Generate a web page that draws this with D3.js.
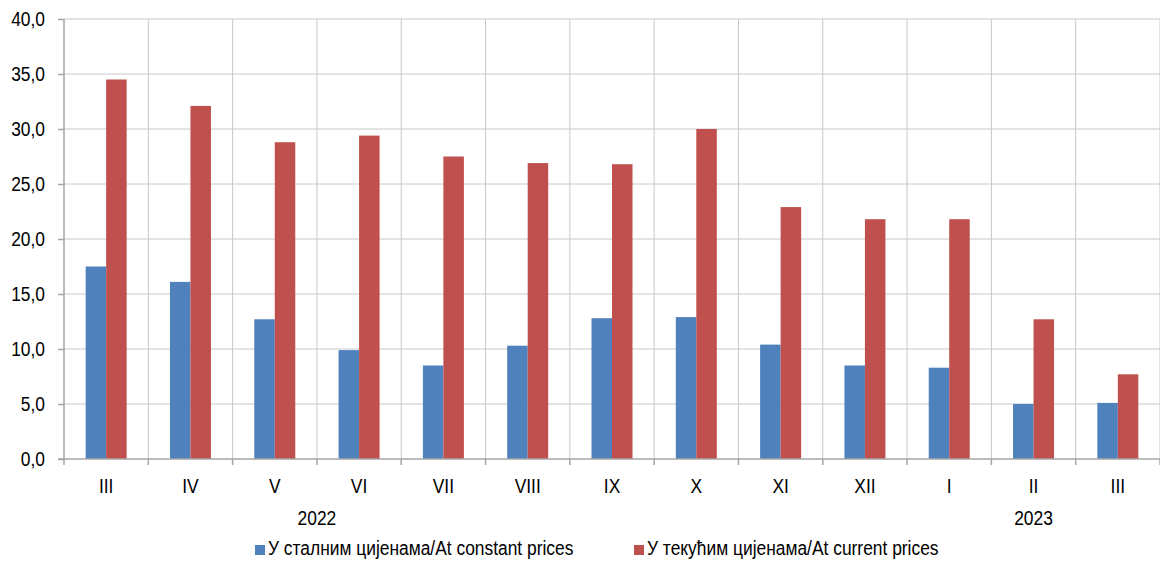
<!DOCTYPE html>
<html>
<head>
	<meta charset="utf-8" />
	<script src="https://cdnjs.cloudflare.com/ajax/libs/d3/7.8.5/d3.min.js"></script>
	<style>
		body { margin: 0; background: #fff; }
		text {
			font-family: 'Liberation Sans Narrow', 'Arial Narrow', 'Liberation Sans', Arial, sans-serif;
			font-size: 20px;
			fill: #000;
			transform-box: fill-box;
			transform: scaleX(0.87);
		}
		.tl { transform-origin: right center; }
		.tc { transform-origin: center center; }
		.tr { transform-origin: left center; }
	</style>
</head>
<body>
	<script>
		// categories (months) and years
		const months = ["III", "IV", "V", "VI", "VII", "VIII", "IX", "X", "XI", "XII", "I", "II", "III"];
		const years = [{ label: "2022", at: 3 }, { label: "2023", at: 11.5 }];
		const constantPrices = [17.5, 16.1, 12.7, 9.9, 8.5, 10.3, 12.8, 12.9, 10.4, 8.5, 8.3, 5.0, 5.1];
		const currentPrices = [34.5, 32.1, 28.8, 29.4, 27.5, 26.9, 26.8, 30.0, 22.9, 21.8, 21.8, 12.7, 7.7];
		const seriesNames = ["У сталним цијенама/At constant prices", "У текућим цијенама/At current prices"];
		const colors = ["#4f81bd", "#c0504d"];
		const yTicks = [0, 5, 10, 15, 20, 25, 30, 35, 40];

		const w = 1160, h = 562;
		const plotL = 64, plotR = 1160, plotT = 19, plotB = 459;

		const svg = d3.select("body").append("svg").attr("width", w).attr("height", h);

		const idx = months.map((m, i) => i);
		const xScale = d3.scaleBand().domain(idx).range([plotL, plotR]).padding(0);
		const xPos = d3.scaleLinear().domain([0, months.length]).range([plotL, plotR]);
		const yScale = d3.scaleLinear().domain([0, 40]).range([plotB, plotT]);

		const barW = 20.5;
		const inner = d3.scaleBand().domain([0, 1])
			.range([xScale.bandwidth() / 2 - barW, xScale.bandwidth() / 2 + barW]);

		// horizontal gridlines
		svg.append("g").selectAll("line").data(yTicks.slice(1)).join("line")
			.attr("x1", plotL).attr("x2", plotR)
			.attr("y1", d => yScale(d)).attr("y2", d => yScale(d))
			.attr("stroke", "#c8c8c8").attr("stroke-width", 1);

		// vertical gridlines
		svg.append("g").selectAll("line").data(d3.range(1, months.length + 1)).join("line")
			.attr("x1", d => xPos(d)).attr("x2", d => xPos(d))
			.attr("y1", plotT).attr("y2", plotB)
			.attr("stroke", "#c8c8c8").attr("stroke-width", 1);

		// bars
		const series = [constantPrices, currentPrices];
		series.forEach((vals, s) => {
			svg.append("g").selectAll("rect").data(vals).join("rect")
				.attr("x", (d, i) => xScale(i) + inner(s))
				.attr("y", d => yScale(d))
				.attr("width", inner.bandwidth())
				.attr("height", d => yScale(0) - yScale(d))
				.attr("fill", colors[s]);
		});

		// y axis
		const yAxis = d3.axisLeft(yScale).tickValues(yTicks).tickSize(6).tickPadding(13)
			.tickFormat(d => d3.format(".1f")(d).replace(".", ","));
		const gy = svg.append("g").attr("transform", "translate(" + plotL + ",0)").call(yAxis);
		gy.attr("font-size", null).attr("font-family", null);
		gy.select(".domain").attr("stroke", "#a6a6a6").attr("stroke-width", 1.5).attr("d", "M0," + plotT + "V" + plotB);
		gy.selectAll(".tick line").attr("stroke", "#a6a6a6").attr("stroke-width", 1.5);
		gy.selectAll(".tick text").attr("class", "tl");

		// x axis
		const gx = svg.append("g").attr("transform", "translate(0," + plotB + ")");
		gx.append("line").attr("x1", plotL - 6).attr("x2", plotR).attr("stroke", "#a6a6a6").attr("stroke-width", 1.5);
		gx.selectAll(".xt").data(d3.range(0, months.length + 1)).join("line")
			.attr("x1", d => xPos(d)).attr("x2", d => xPos(d))
			.attr("y1", 0).attr("y2", 6)
			.attr("stroke", "#a6a6a6").attr("stroke-width", 1.5);
		gx.selectAll(".xl").data(months).join("text")
			.attr("class", "tc")
			.attr("x", (d, i) => xScale(i) + xScale.bandwidth() / 2)
			.attr("y", 34)
			.attr("text-anchor", "middle")
			.text(d => d);
		gx.selectAll(".yr").data(years).join("text")
			.attr("class", "tc")
			.attr("x", d => xPos(d.at))
			.attr("y", 66)
			.attr("text-anchor", "middle")
			.text(d => d.label);

		// legend
		const legX = [255, 634];
		const leg = svg.append("g");
		seriesNames.forEach((name, s) => {
			leg.append("rect").attr("x", legX[s]).attr("y", 545).attr("width", 10).attr("height", 10).attr("fill", colors[s]);
			leg.append("text").attr("class", "tr").attr("x", legX[s] + 13).attr("y", 555).text(name);
		});
	</script>
</body>
</html>
